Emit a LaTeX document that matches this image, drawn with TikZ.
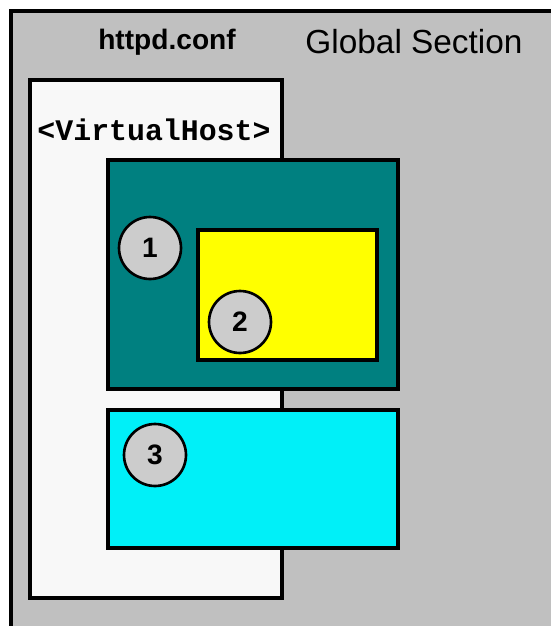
\documentclass[tikz,border=0pt]{standalone}
\usepackage{fontspec}
\setmainfont{Liberation Sans}
\newfontfamily\monofont{Liberation Mono}
\usepackage{tikz}

\definecolor{panelgray}{RGB}{192,192,192}
\definecolor{hostwhite}{RGB}{248,248,248}
\definecolor{dirteal}{RGB}{0,128,128}
\definecolor{diryellow}{RGB}{255,255,0}
\definecolor{dircyan}{RGB}{0,240,248}
\definecolor{markgray}{RGB}{204,204,204}

\begin{document}
\begin{tikzpicture}[x=0.02cm,y=-0.02cm,
    box/.style={line width=1.8pt,draw=black},
    marker/.style={circle,line width=1.5pt,draw=black,fill=markgray,
      minimum size=1.24cm,inner sep=0pt,font=\bfseries\fontsize{16}{18}\selectfont}]
                \useasboundingbox (0,0) rectangle (551,626);
                \fill[white] (0,0) rectangle (551,626);
                \clip (0,0) rectangle (551,626);

                % Global section
                \draw[box,fill=panelgray] (11,11) rectangle (580,650);
                \node (conf) at (167,42) {\bfseries\fontsize{16}{19}\selectfont httpd.conf};
                \node (global) at (414,42) {\fontsize{19}{22}\selectfont Global Section};

                % Virtual host
                \draw[box,fill=hostwhite] (30,80) rectangle (282,598);
                \node (vhost) at (154,130) {\monofont\bfseries\fontsize{17}{20}\selectfont <VirtualHost>};

                % Nested sections
                \draw[box,fill=dirteal] (108,160) rectangle (398,389);
                \draw[box,fill=diryellow] (198,230) rectangle (377,360);
                \draw[box,fill=dircyan] (108,410) rectangle (398,548);

                % Markers
                \node[marker] (one) at (150,248) {1};
                \node[marker] (two) at (240,322) {2};
                \node[marker] (three) at (155,455) {3};
            \end{tikzpicture}
\end{document}
